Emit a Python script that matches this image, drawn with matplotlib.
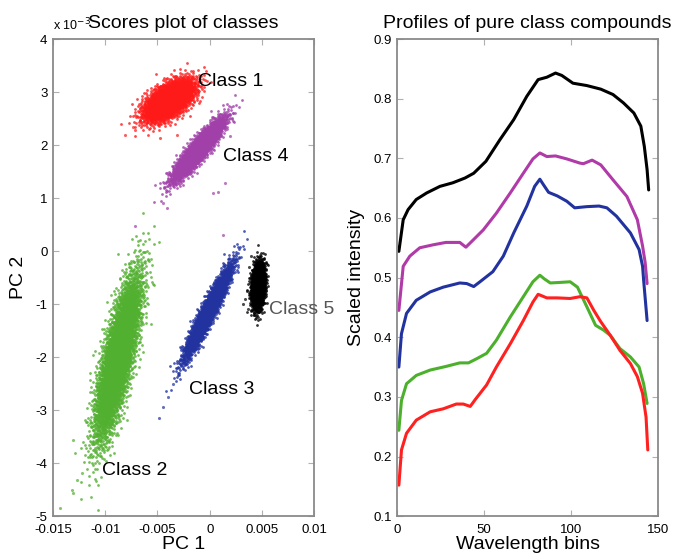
import numpy as np
import matplotlib.pyplot as plt

plt.rcParams['font.family'] = ['Liberation Sans', 'DejaVu Sans']

# ---- Scores plot: cluster summaries (PC2 in units of 1e-3)
class_names = ["Class 1", "Class 2", "Class 3", "Class 4", "Class 5"]
class_colors = ["#ff1a1a", "#52b030", "#2233a0", "#a040a8", "#000000"]
center_pc1 = [-0.0039, -0.0088, -0.0002, -0.0011, 0.00463]
center_pc2 = [2.85, -2.0, -1.15, 1.92, -0.65]
spread_pc2 = [0.19, 0.75, 0.42, 0.28, 0.21]
slope_pc1 = [0.0036, 0.00109, 0.00245, 0.00386, 0.0003]   # PC1 change per PC2 unit
resid_pc1 = [0.00095, 0.00068, 0.00036, 0.0005, 0.0003]
n_points = [3000, 5000, 3000, 3000, 2000]

# stray points visible around each cluster
outliers_pc1 = [
    [-0.0081, -0.00475, -0.00312, -0.00734, -0.0072],
    [-0.01433, -0.01308, -0.0132, -0.0127, -0.01222, -0.01308, -0.00762, -0.0077],
    [-0.0029, -0.0035, -0.0040, -0.0045, -0.0049, 0.0025],
    [-0.00446, -0.00408, -0.00715, 0.00128, 0.00033, 0.0008, 0.00148, 0.00195],
    [0.0034, 0.0036, 0.0032, 0.0038, 0.0040, 0.0037, 0.0042],
]
outliers_pc2 = [
    [2.19, 2.13, 2.19, 2.34, 2.28],
    [-4.85, -4.57, -4.5, -4.32, -4.19, -3.57, -0.30, -0.45],
    [-2.3, -2.5, -2.75, -2.95, -3.15, -0.1],
    [0.91, 0.81, 0.47, 0.30, 1.09, 1.11, 1.28, 2.17],
    [-0.9, -0.75, -1.0, -0.3, -0.1, -1.1, -1.2],
]

label_x = [-0.00111, -0.0103, -0.00197, 0.00128, 0.00569]
label_y = [3.19, -4.13, -2.62, 1.78, -1.11]
label_colors = ["black", "black", "black", "black", "#555555"]

# ---- Profiles of pure class compounds
black_bins = [1, 3.5, 6.3, 11, 17, 24.6, 32, 39, 44, 51, 59, 67, 74.5, 81, 86, 91, 94.6,
              101, 109, 117, 124, 130, 136, 140, 142, 143.6, 144.5]
black_vals = [0.544, 0.597, 0.614, 0.631, 0.642, 0.653, 0.659, 0.667, 0.675, 0.695, 0.731,
              0.765, 0.804, 0.832, 0.836, 0.843, 0.839, 0.826, 0.822, 0.816, 0.807, 0.793,
              0.776, 0.754, 0.720, 0.681, 0.647]
magenta_bins = [1, 3.5, 7.3, 13, 20.7, 28, 36, 39.5, 44, 49.5, 57, 65, 72.5, 78, 82, 86, 91,
                97.5, 105, 107, 112, 117, 124, 132, 138, 141, 142.5, 143.6]
magenta_vals = [0.445, 0.519, 0.536, 0.550, 0.555, 0.559, 0.559, 0.551, 0.564, 0.580, 0.608,
                0.642, 0.675, 0.699, 0.709, 0.703, 0.704, 0.699, 0.692, 0.691, 0.697, 0.689,
                0.664, 0.636, 0.597, 0.553, 0.525, 0.490]
blue_bins = [1, 2.5, 5.4, 11, 19, 26.5, 36, 40, 44, 47.6, 52.4, 55, 61, 67, 74.5, 79, 82, 84,
             87, 92, 97.5, 102, 109, 116, 120.5, 126, 134, 139, 141, 141.6, 143.6]
blue_vals = [0.350, 0.406, 0.440, 0.462, 0.476, 0.484, 0.491, 0.490, 0.485, 0.493, 0.504,
             0.510, 0.536, 0.575, 0.620, 0.653, 0.665, 0.656, 0.643, 0.637, 0.628, 0.617,
             0.619, 0.620, 0.617, 0.603, 0.575, 0.547, 0.519, 0.496, 0.428]
green_bins = [1, 2.5, 5.4, 11, 19, 28, 36, 41, 45.7, 51.4, 57, 65, 72.5, 78, 82, 84.5, 88, 94,
              99.4, 103.6, 109, 114, 118.6, 122.5, 128, 134, 139, 141.6, 143.6]
green_vals = [0.244, 0.294, 0.322, 0.336, 0.345, 0.351, 0.357, 0.357, 0.364, 0.373, 0.395,
              0.434, 0.468, 0.493, 0.504, 0.498, 0.491, 0.492, 0.493, 0.484, 0.451, 0.420,
              0.412, 0.403, 0.381, 0.367, 0.350, 0.322, 0.289]
red_bins = [1, 2.5, 5.4, 11, 19, 26.5, 34, 38, 42, 45, 51.4, 57, 65, 72.5, 78, 81, 86, 92,
            99.4, 105, 109, 113, 117, 122.5, 128, 134, 138, 141, 143, 144]
red_vals = [0.152, 0.211, 0.239, 0.261, 0.275, 0.280, 0.288, 0.288, 0.284, 0.296, 0.320,
            0.350, 0.389, 0.428, 0.459, 0.472, 0.466, 0.466, 0.465, 0.468, 0.466, 0.445,
            0.426, 0.403, 0.378, 0.356, 0.334, 0.306, 0.266, 0.211]


def van_der_corput(n, base):
    seq = np.zeros(n)
    for i in range(n):
        f, k, v = 1.0, i + 1, 0.0
        while k > 0:
            f /= base
            v += f * (k % base)
            k //= base
        seq[i] = v
    return seq


def cloud(cx, cy, sy, k, sr, n):
    # deterministic normal scores (Halton + Box-Muller) shaped by the cluster summary
    u1 = van_der_corput(n, 2)
    u2 = van_der_corput(n, 3)
    r = np.sqrt(-2 * np.log(u1))
    z1 = r * np.cos(2 * np.pi * u2)
    z2 = r * np.sin(2 * np.pi * u2)
    y = cy + sy * z1
    x = cx + k * (y - cy) + sr * z2
    return x, y


def style_axes(ax):
    for s in ax.spines.values():
        s.set_color("#8a8a8a")
        s.set_linewidth(1.3)
    ax.tick_params(direction="in", top=True, right=True, length=4, color="#b0b0b0",
                   labelsize=9.5)
    ax.tick_params(axis="x", pad=6)
    ax.tick_params(axis="y", pad=4)


fig = plt.figure(figsize=(6.8, 5.58), dpi=100)
ax1 = fig.add_axes([0.078, 0.075, 0.384, 0.855])
ax2 = fig.add_axes([0.584, 0.075, 0.384, 0.855])

# left: scores plot
for i in range(len(class_names)):
    x, y = cloud(center_pc1[i], center_pc2[i], spread_pc2[i], slope_pc1[i], resid_pc1[i], n_points[i])
    ax1.scatter(x, y, s=4, color=class_colors[i], linewidths=0, alpha=0.8)
    ax1.scatter(outliers_pc1[i], outliers_pc2[i], s=5, color=class_colors[i], linewidths=0, alpha=0.7)
    ax1.text(label_x[i], label_y[i], class_names[i], fontsize=14, color=label_colors[i],
             va="center", ha="left", clip_on=False)

ax1.set_xlim(-0.015, 0.01)
ax1.set_ylim(-5, 4)
ax1.set_xticks([-0.015, -0.01, -0.005, 0, 0.005, 0.01])
ax1.set_xticklabels(["-0.015", "-0.01", "-0.005", "0", "0.005", "0.01"])
ax1.set_yticks(range(-5, 5))
ax1.set_yticklabels([str(v) for v in range(-5, 5)])
ax1.set_xlabel("PC 1", fontsize=14, labelpad=0)
ax1.set_ylabel("PC 2", fontsize=14, labelpad=6)
ax1.set_title("Scores plot of classes", fontsize=14, pad=8)
ax1.text(0.0, 1.012, "x 10$^{-3}$", transform=ax1.transAxes, fontsize=9, va="bottom", ha="left")
style_axes(ax1)

# right: profiles
line_kw = dict(lw=2.2, solid_joinstyle="round", solid_capstyle="round")
ax2.plot(black_bins, black_vals, color="black", **line_kw)
ax2.plot(magenta_bins, magenta_vals, color="#b03aa8", **line_kw)
ax2.plot(blue_bins, blue_vals, color="#2233a0", **line_kw)
ax2.plot(green_bins, green_vals, color="#4cb02c", **line_kw)
ax2.plot(red_bins, red_vals, color="#ff2020", **line_kw)
ax2.set_xlim(0, 150)
ax2.set_ylim(0.1, 0.9)
ax2.set_xticks([0, 50, 100, 150])
ax2.set_yticks([0.1, 0.2, 0.3, 0.4, 0.5, 0.6, 0.7, 0.8, 0.9])
ax2.set_yticklabels(["0.1", "0.2", "0.3", "0.4", "0.5", "0.6", "0.7", "0.8", "0.9"])
ax2.set_xlabel("Wavelength bins", fontsize=14, labelpad=0)
ax2.set_ylabel("Scaled intensity", fontsize=14, labelpad=6)
ax2.set_title("Profiles of pure class compounds", fontsize=14, pad=8)
style_axes(ax2)

fig.savefig("out.png", dpi=100)
